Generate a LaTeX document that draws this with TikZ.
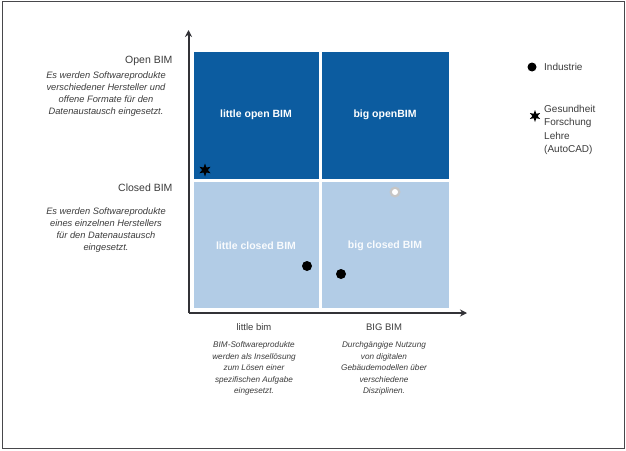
\documentclass[tikz,border=0pt]{standalone}
\usepackage{fontspec}
\setmainfont{Liberation Sans}
\usetikzlibrary{shapes.geometric,arrows.meta}
\definecolor{darkq}{RGB}{12,92,160}
\definecolor{lightq}{RGB}{178,204,230}
\definecolor{axisc}{RGB}{50,50,55}
\definecolor{txt}{RGB}{60,60,60}
\tikzset{
  axisline/.style={line width=2pt,draw=axisc,-{Stealth[length=7pt,width=7pt]}},
  cat/.style={font=\fontsize{10.5}{12}\selectfont,text=txt},
  bcat/.style={font=\fontsize{9.5}{12}\selectfont,text=txt},
  desc/.style={font=\itshape\fontsize{9.3}{12}\selectfont,text=txt,align=center,inner sep=0pt},
  bdesc/.style={font=\itshape\fontsize{8.2}{11.6}\selectfont,text=txt,align=center,inner sep=0pt},
  qlabel/.style={font=\bfseries\fontsize{10.5}{12}\selectfont,text=white},
  dotmark/.style={circle,fill=black,inner sep=0pt,minimum size=10pt},
  starmark/.style={star,star points=6,star point ratio=2.3,fill=black,inner sep=0pt,minimum size=13pt},
  legend/.style={font=\fontsize{10}{13.3}\selectfont,text=txt,align=left,inner sep=0pt}
}
\begin{document}
\begin{tikzpicture}[x=1pt,y=-1pt]
\useasboundingbox (0,0) rectangle (626,450);
\fill[white] (0,0) rectangle (626,450);
\draw[line width=1.6pt,draw=axisc!90] (2.5,1.5) rectangle (624.5,448.5);
% quadrants
\fill[darkq] (194,52) rectangle (319,179);
\fill[darkq] (322,52) rectangle (449,179);
\fill[lightq] (194,182) rectangle (319,308);
\fill[lightq] (322,182) rectangle (449,308);
\node[qlabel] (lo) at (256,115) {little open BIM};
\node[qlabel] (bo) at (385,115) {big openBIM};
\node[qlabel,text=white!92!lightq] (lc) at (256,246) {little closed BIM};
\node[qlabel,text=white!92!lightq] (bc) at (385,246) {big closed BIM};
% axes
\coordinate (o) at (188.5,313);
\coordinate (ytop) at (188.5,30);
\coordinate (xend) at (467,313);
\draw[axisline] (o) -- (ytop);
\draw[axisline] (o) -- (xend);
% left labels
\node[cat,anchor=east] (open) at (176,61) {Open BIM};
\node[desc] (opend) at (106,94) {Es werden Softwareprodukte\\verschiedener Hersteller und\\offene Formate für den\\Datenaustausch eingesetzt.};
\node[cat,anchor=east] (closed) at (176,188) {Closed BIM};
\node[desc] (closedd) at (106,230) {Es werden Softwareprodukte\\eines einzelnen Herstellers\\für den Datenaustausch\\eingesetzt.};
% bottom labels
\node[bcat] (lb) at (254,327) {little bim};
\node[bcat] (bb) at (384,327) {BIG BIM};
\node[bdesc] (lbd) at (254,368.5) {BIM-Softwareprodukte\\werden als Insellösung\\zum Lösen einer\\spezifischen Aufgabe\\eingesetzt.};
\node[bdesc] (bbd) at (384,368.5) {Durchgängige Nutzung\\von digitalen\\Gebäudemodellen über\\verschiedene\\Disziplinen.};
% data marks
\node[starmark] (s1) at (205,170) {};
\node[dotmark] (d1) at (307,266) {};
\node[dotmark] (d2) at (341,274) {};
\node[circle,fill=gray!45,inner sep=0pt,minimum size=11pt] (w1) at (395,192) {};
\node[circle,fill=white,inner sep=0pt,minimum size=6pt] (w1c) at (395,192) {};
% legend
\node[dotmark,minimum size=9pt] (ld) at (532,67) {};
\node[legend,anchor=west] (lt1) at (544,67) {Industrie};
\node[starmark,minimum size=12pt] (ls) at (535,116) {};
\node[legend,anchor=north west] (lt2) at (544,105) {Gesundheit\\Forschung\\Lehre\\(AutoCAD)};
\end{tikzpicture}
\end{document}
